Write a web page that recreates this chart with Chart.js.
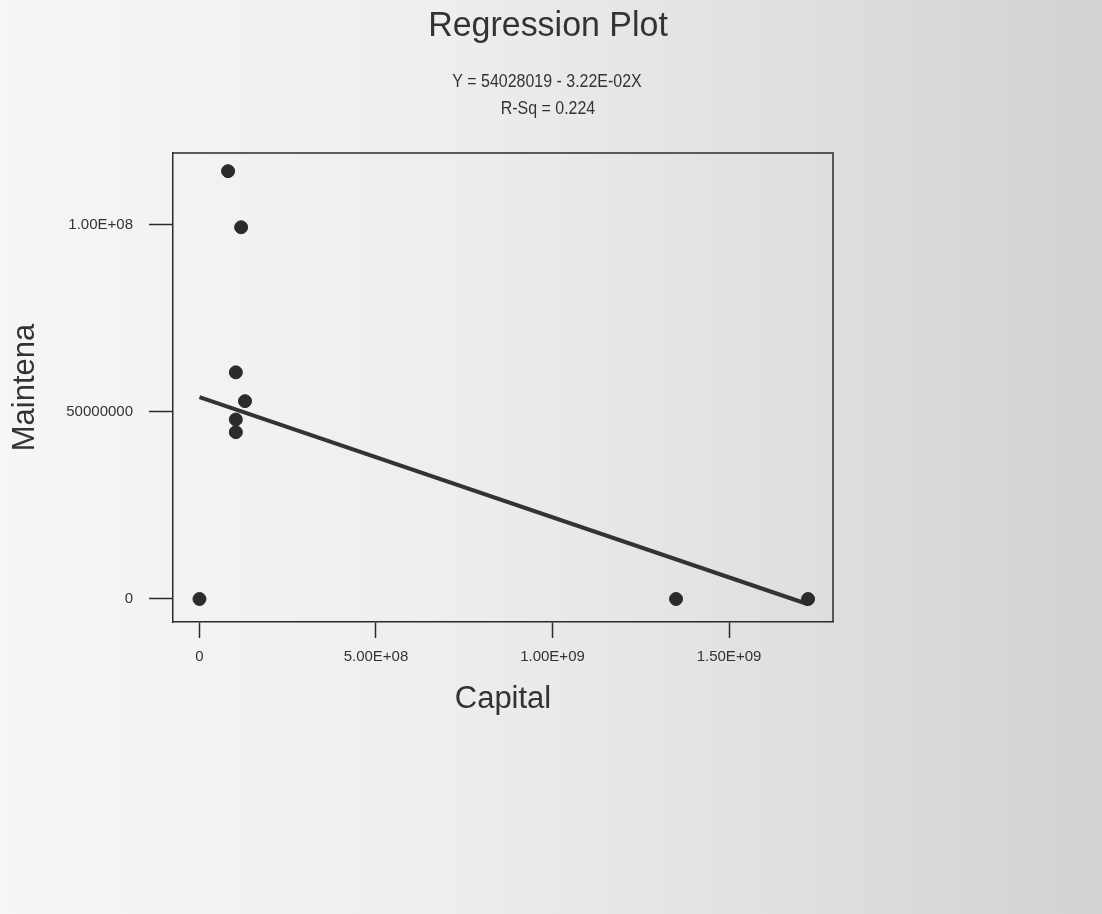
<!DOCTYPE html>
<html>
<head>
<meta charset="utf-8">
<script src="https://cdn.jsdelivr.net/npm/chart.js@4"></script>
<style>
    html, body { margin: 0; padding: 0; }
    body {
        width: 1102px; height: 914px; overflow: hidden;
        background: linear-gradient(to right, #f6f6f6 0%, #eeeeee 40%, #dedede 75%, #d2d2d2 100%);
    }
    #wrap { position: relative; width: 1102px; height: 914px; }
</style>
</head>
<body>
<div id="wrap"><canvas id="regressionPlot"></canvas></div>
<script>
// values
const capitalValues = [8.1e7, 1.18e8, 1.03e8, 1.29e8, 1.03e8, 1.03e8, 0, 1.35e9, 1.724e9];
const maintenanceValues = [114.4e6, 99.4e6, 60.6e6, 52.9e6, 48.0e6, 44.6e6, 0, 0, 0];

// fitted line endpoints (Y = 54028019 - 3.22E-02X)
const fitX = [0, 1.724e9];
const fitY = [54.0e6, -1.4e6];

const xTickValues = [0, 5e8, 1e9, 1.5e9];
const xTickLabels = ['0', '5.00E+08', '1.00E+09', '1.50E+09'];
const yTickValues = [0, 5e7, 1e8];
const yTickLabels = ['0', '50000000', '1.00E+08'];

const titleText = 'Regression Plot';
const subtitleLines = ['Y = 54028019 - 3.22E-02X', 'R-Sq = 0.224'];

const narrow = '"Liberation Sans Narrow", "Arial Narrow", "Liberation Sans", Arial, sans-serif';
const ink = '#2b2b2b';

// draws some text squeezed sideways, the scan uses a condensed face
function condensedText(c, text, x, y, squeeze) {
    c.save();
    c.translate(x, y);
    c.scale(squeeze, 1);
    c.fillText(text, 0, 0);
    c.restore();
}

// draws the heading texts and the top/right sides of the frame
const framePlugin = {
    id: 'frame',
    afterDraw(chart) {
        let c = chart.ctx;
        let a = chart.chartArea;
        c.save();
        c.strokeStyle = ink;
        c.lineWidth = 1.5;
        c.beginPath();
        c.moveTo(a.left, a.top);
        c.lineTo(a.right, a.top);
        c.lineTo(a.right, a.bottom);
        c.stroke();

        c.fillStyle = '#333';
        c.textAlign = 'center';
        c.textBaseline = 'middle';
        c.font = '35px ' + narrow;
        condensedText(c, titleText, 548, 26, 0.97);
        c.font = '19px ' + narrow;
        condensedText(c, subtitleLines[0], 547, 82, 0.84);
        condensedText(c, subtitleLines[1], 548, 109, 0.84);
        c.restore();
    }
};

function whenDocumentLoaded(action) {
    if (document.readyState === 'loading') {
        document.addEventListener('DOMContentLoaded', action);
    } else {
        action();
    }
}

whenDocumentLoaded(() => {
    let ctx = document.getElementById('regressionPlot');

    let points = capitalValues.map((x, i) => ({ x: x, y: maintenanceValues[i] }));
    let fitLine = fitX.map((x, i) => ({ x: x, y: fitY[i] }));

    new Chart(ctx, {
        type: 'scatter',
        data: {
            datasets: [
                {
                    label: 'Fit',
                    type: 'line',
                    data: fitLine,
                    borderColor: '#333',
                    borderWidth: 4,
                    pointRadius: 0,
                    fill: false,
                    order: 2
                },
                {
                    label: 'Maintena',
                    data: points,
                    backgroundColor: ink,
                    borderColor: ink,
                    pointRadius: 6.5,
                    order: 1
                }
            ]
        },
        options: {
            responsive: true,
            maintainAspectRatio: false,
            animation: false,
            clip: false,
            layout: {
                padding: { left: 0, right: 269, top: 153, bottom: 194 }
            },
            plugins: {
                legend: { display: false },
                tooltip: { enabled: false }
            },
            scales: {
                x: {
                    type: 'linear',
                    min: -7.5e7,
                    max: 1.7946e9,
                    afterFit: (s) => { s.height = 98; },
                    afterBuildTicks: (s) => { s.ticks = xTickValues.map(v => ({ value: v })); },
                    border: { display: true, color: ink, width: 1.5 },
                    grid: {
                        display: true,
                        drawOnChartArea: false,
                        drawTicks: true,
                        tickLength: 16,
                        tickColor: ink,
                        tickWidth: 1.5
                    },
                    ticks: {
                        padding: 10,
                        color: '#333',
                        maxRotation: 0,
                        font: { family: narrow, size: 15 },
                        callback: (value) => xTickLabels[xTickValues.indexOf(value)]
                    },
                    title: {
                        display: true,
                        text: 'Capital',
                        color: '#333',
                        padding: { top: 0, bottom: 2 },
                        font: { family: narrow, size: 31 }
                    }
                },
                y: {
                    type: 'linear',
                    min: -6.15e6,
                    max: 119.25e6,
                    afterFit: (s) => { s.width = 173; },
                    afterBuildTicks: (s) => { s.ticks = yTickValues.map(v => ({ value: v })); },
                    border: { display: true, color: ink, width: 1.5 },
                    grid: {
                        display: true,
                        drawOnChartArea: false,
                        drawTicks: true,
                        tickLength: 24,
                        tickColor: ink,
                        tickWidth: 1.5
                    },
                    ticks: {
                        padding: 16,
                        color: '#333',
                        font: { family: narrow, size: 15 },
                        callback: (value) => yTickLabels[yTickValues.indexOf(value)]
                    },
                    title: {
                        display: true,
                        text: 'Maintena',
                        color: '#333',
                        padding: { top: 7, bottom: 0 },
                        font: { family: narrow, size: 31 }
                    }
                }
            }
        },
        plugins: [framePlugin]
    });
});
</script>
</body>
</html>
